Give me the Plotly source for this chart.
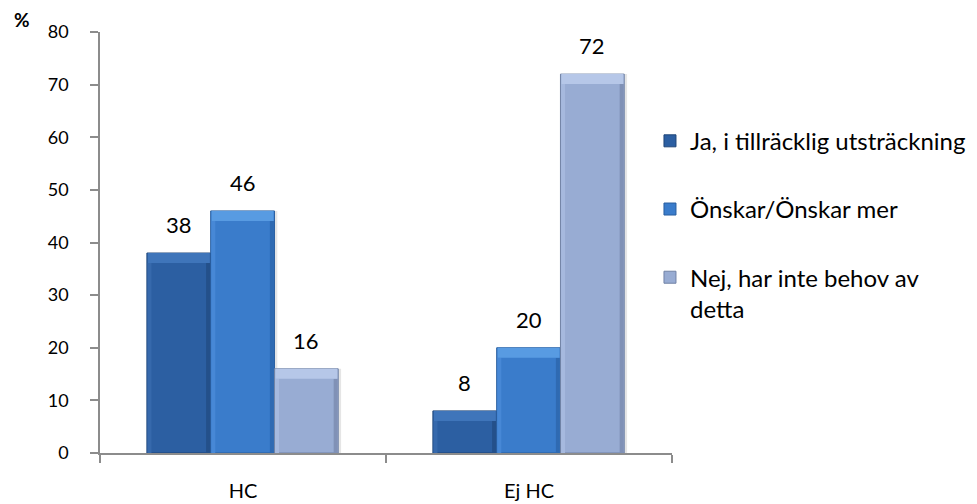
import plotly.graph_objects as go

# Survey answers (%) per group
categories = ["HC", "Ej HC"]
series_names = [
    "Ja, i tillräcklig utsträckning",
    "Önskar/Önskar mer",
    "Nej, har inte behov av<br>detta",
]
values = [
    [38, 8],    # Ja, i tillräcklig utsträckning
    [46, 20],   # Önskar/Önskar mer
    [16, 72],   # Nej, har inte behov av detta
]
y_ticks = [0, 10, 20, 30, 40, 50, 60, 70, 80]

# Styling
fill_colors = ["#2C5FA2", "#3A7CCB", "#98ACD3"]
edge_colors = ["#1F4578", "#285E9F", "#7183A6"]
top_colors = ["#3F75BA", "#589BE2", "#B6C7E8"]
left_colors = ["#3669AC", "#4788D6", "#A6B9DE"]
right_colors = ["#24508A", "#2F6AB2", "#8091B6"]
FONT = "Lato, 'Liberation Sans', Arial, sans-serif"

bar_w = 0.223
offsets = [-0.336, -0.113, 0.110]
bevel = 1.9      # height of the lighter top facet, axis units
side = 0.014     # width of the side facets, category units

fig = go.Figure()

for i, name in enumerate(series_names):
    v = values[i]
    grp = f"s{i}"
    # soft drop shadow to the right
    fig.add_trace(go.Bar(
        x=categories, y=v, width=bar_w, offset=offsets[i] + 0.010,
        marker=dict(color="rgba(0,0,0,0.10)", line=dict(width=0)),
        showlegend=False, hoverinfo="skip", legendgroup=grp,
    ))
    fig.add_trace(go.Bar(
        x=categories, y=v, name=name, legendgroup=grp,
        width=bar_w, offset=offsets[i],
        marker=dict(color=fill_colors[i],
                    line=dict(color=edge_colors[i], width=1)),
    ))
    # left and right facets
    fig.add_trace(go.Bar(
        x=categories, y=[a - bevel for a in v],
        width=side, offset=offsets[i] + 0.002,
        marker=dict(color=left_colors[i], line=dict(width=0)),
        showlegend=False, hoverinfo="skip", legendgroup=grp,
    ))
    fig.add_trace(go.Bar(
        x=categories, y=[a - bevel for a in v],
        width=side, offset=offsets[i] + bar_w - side - 0.002,
        marker=dict(color=right_colors[i], line=dict(width=0)),
        showlegend=False, hoverinfo="skip", legendgroup=grp,
    ))
    # lighter top facet
    fig.add_trace(go.Bar(
        x=categories, y=[bevel] * len(v),
        base=[a - bevel for a in v],
        width=bar_w - 0.006, offset=offsets[i] + 0.003,
        marker=dict(color=top_colors[i], line=dict(width=0)),
        showlegend=False, hoverinfo="skip", legendgroup=grp,
    ))

# value labels above the bars
for i in range(len(series_names)):
    for j, v in enumerate(values[i]):
        fig.add_annotation(
            x=j + offsets[i] + bar_w / 2, y=v, text=str(v),
            showarrow=False, yanchor="bottom", yshift=13,
            font=dict(family=FONT, size=22, color="#000000"),
        )

fig.add_annotation(
    xref="paper", yref="paper", x=-0.136, y=1.029, text="<b>%</b>",
    showarrow=False, xanchor="center", yanchor="middle",
    font=dict(family=FONT, size=19, color="#000000"),
)

fig.update_layout(
    width=977, height=504,
    margin=dict(l=100, r=305, t=32, b=51, autoexpand=False),
    barmode="overlay",
    plot_bgcolor="white", paper_bgcolor="white",
    font=dict(family=FONT, size=18, color="#000000"),
    showlegend=True,
    legend=dict(
        x=0.9615, y=0.794, xanchor="left", yanchor="top",
        traceorder="grouped", tracegroupgap=34, valign="top",
        font=dict(family=FONT, size=24, color="#000000"),
        itemwidth=30, bgcolor="rgba(0,0,0,0)",
    ),
    xaxis=dict(
        range=[-0.5, 1.5], showline=True, linecolor="#8C8C8C", linewidth=1.5,
        ticks="outside", tickson="boundaries", ticklen=8, tickcolor="#8C8C8C",
        tickwidth=1.5, showgrid=False, ticklabelstandoff=19, automargin=False,
        tickfont=dict(family=FONT, size=20),
    ),
    yaxis=dict(
        range=[0, 80], tickvals=y_ticks, showline=True, linecolor="#8C8C8C",
        linewidth=1.5, ticks="outside", ticklen=8, tickcolor="#8C8C8C",
        tickwidth=1.5, showgrid=False, zeroline=False, ticklabelstandoff=18,
        automargin=False, tickfont=dict(family=FONT, size=18),
    ),
)

fig.write_html("out.html")
